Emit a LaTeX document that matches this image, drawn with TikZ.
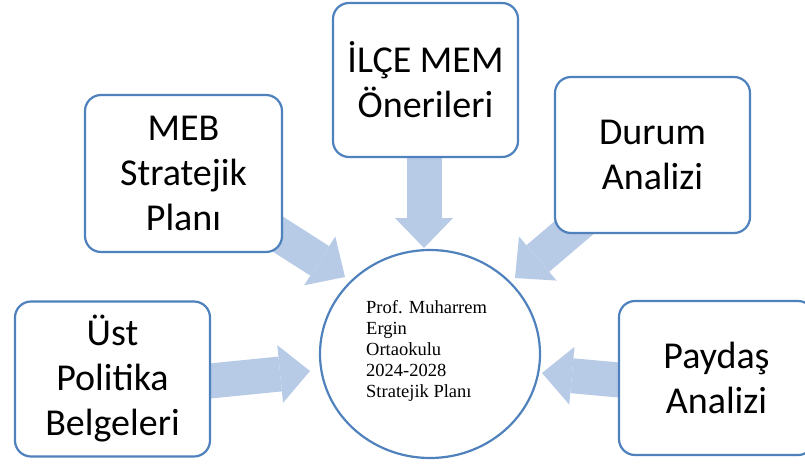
\documentclass[tikz,border=0pt]{standalone}
\usepackage{fontspec}
\setmainfont{Carlito}
\newfontfamily\timesfont{Liberation Serif}
\usetikzlibrary{arrows.meta,shapes.geometric}
\definecolor{boxline}{RGB}{79,129,189}
\definecolor{arrowfill}{RGB}{183,202,230}
\pgfdeclarelayer{bg}
\pgfsetlayers{bg,main}
\tikzset{
  box/.style={draw=boxline, line width=2.2pt, fill=white, rounded corners=16pt,
    align=center, inner sep=0pt, minimum width=195pt, minimum height=155pt,
    font=\fontsize{38}{45}\selectfont},
  blockarrow/.style={draw=arrowfill, line width=35pt,
    -{Triangle[width=58pt,length=30pt,line width=0pt]}},
  hubstyle/.style={draw=boxline, line width=2.2pt, ellipse, inner sep=0pt,
    minimum width=220pt, minimum height=208pt},
  hubtextstyle/.style={align=left, inner sep=0pt, anchor=north west,
    font=\timesfont\fontsize{18.5}{21}\selectfont}
}
\begin{document}
\begin{tikzpicture}[x=1pt,y=-1pt]
\clip (0,0) rectangle (805,463);

\node[box] (ust) at (112.5,379) {Üst\\Politika\\Belgeleri};
\node[box, minimum width=197pt, minimum height=157pt] (meb) at (183.5,173.5) {MEB\\Stratejik\\Planı};
\node[box, minimum width=185pt, minimum height=154pt] (ilce) at (425.5,80) {İLÇE MEM\\Önerileri};
\node[box, minimum height=156pt] (durum) at (652.5,155) {Durum\\Analizi};
\node[box, minimum height=154pt] (paydas) at (716.5,378) {Paydaş\\Analizi};

\node[hubstyle] (hub) at (430,354) {};
\node[hubtextstyle] (hubtext) at (366,300) {Prof. Muharrem\\Ergin\\Ortaokulu\\2024-2028\\Stratejik Planı};

\coordinate (a1s) at (200,382); \coordinate (a1e) at (310,371);
\coordinate (a2s) at (630,381); \coordinate (a2e) at (542,373);
\coordinate (a3s) at (262,224); \coordinate (a3e) at (345,277);
\coordinate (a4s) at (590,214); \coordinate (a4e) at (515,278);
\coordinate (a5s) at (424,150); \coordinate (a5e) at (424,248);

\begin{pgfonlayer}{bg}
\draw[blockarrow] (a1s) -- (a1e);
\draw[blockarrow] (a2s) -- (a2e);
\draw[blockarrow] (a3s) -- (a3e);
\draw[blockarrow] (a4s) -- (a4e);
\draw[blockarrow] (a5s) -- (a5e);
\end{pgfonlayer}
\end{tikzpicture}
\end{document}
